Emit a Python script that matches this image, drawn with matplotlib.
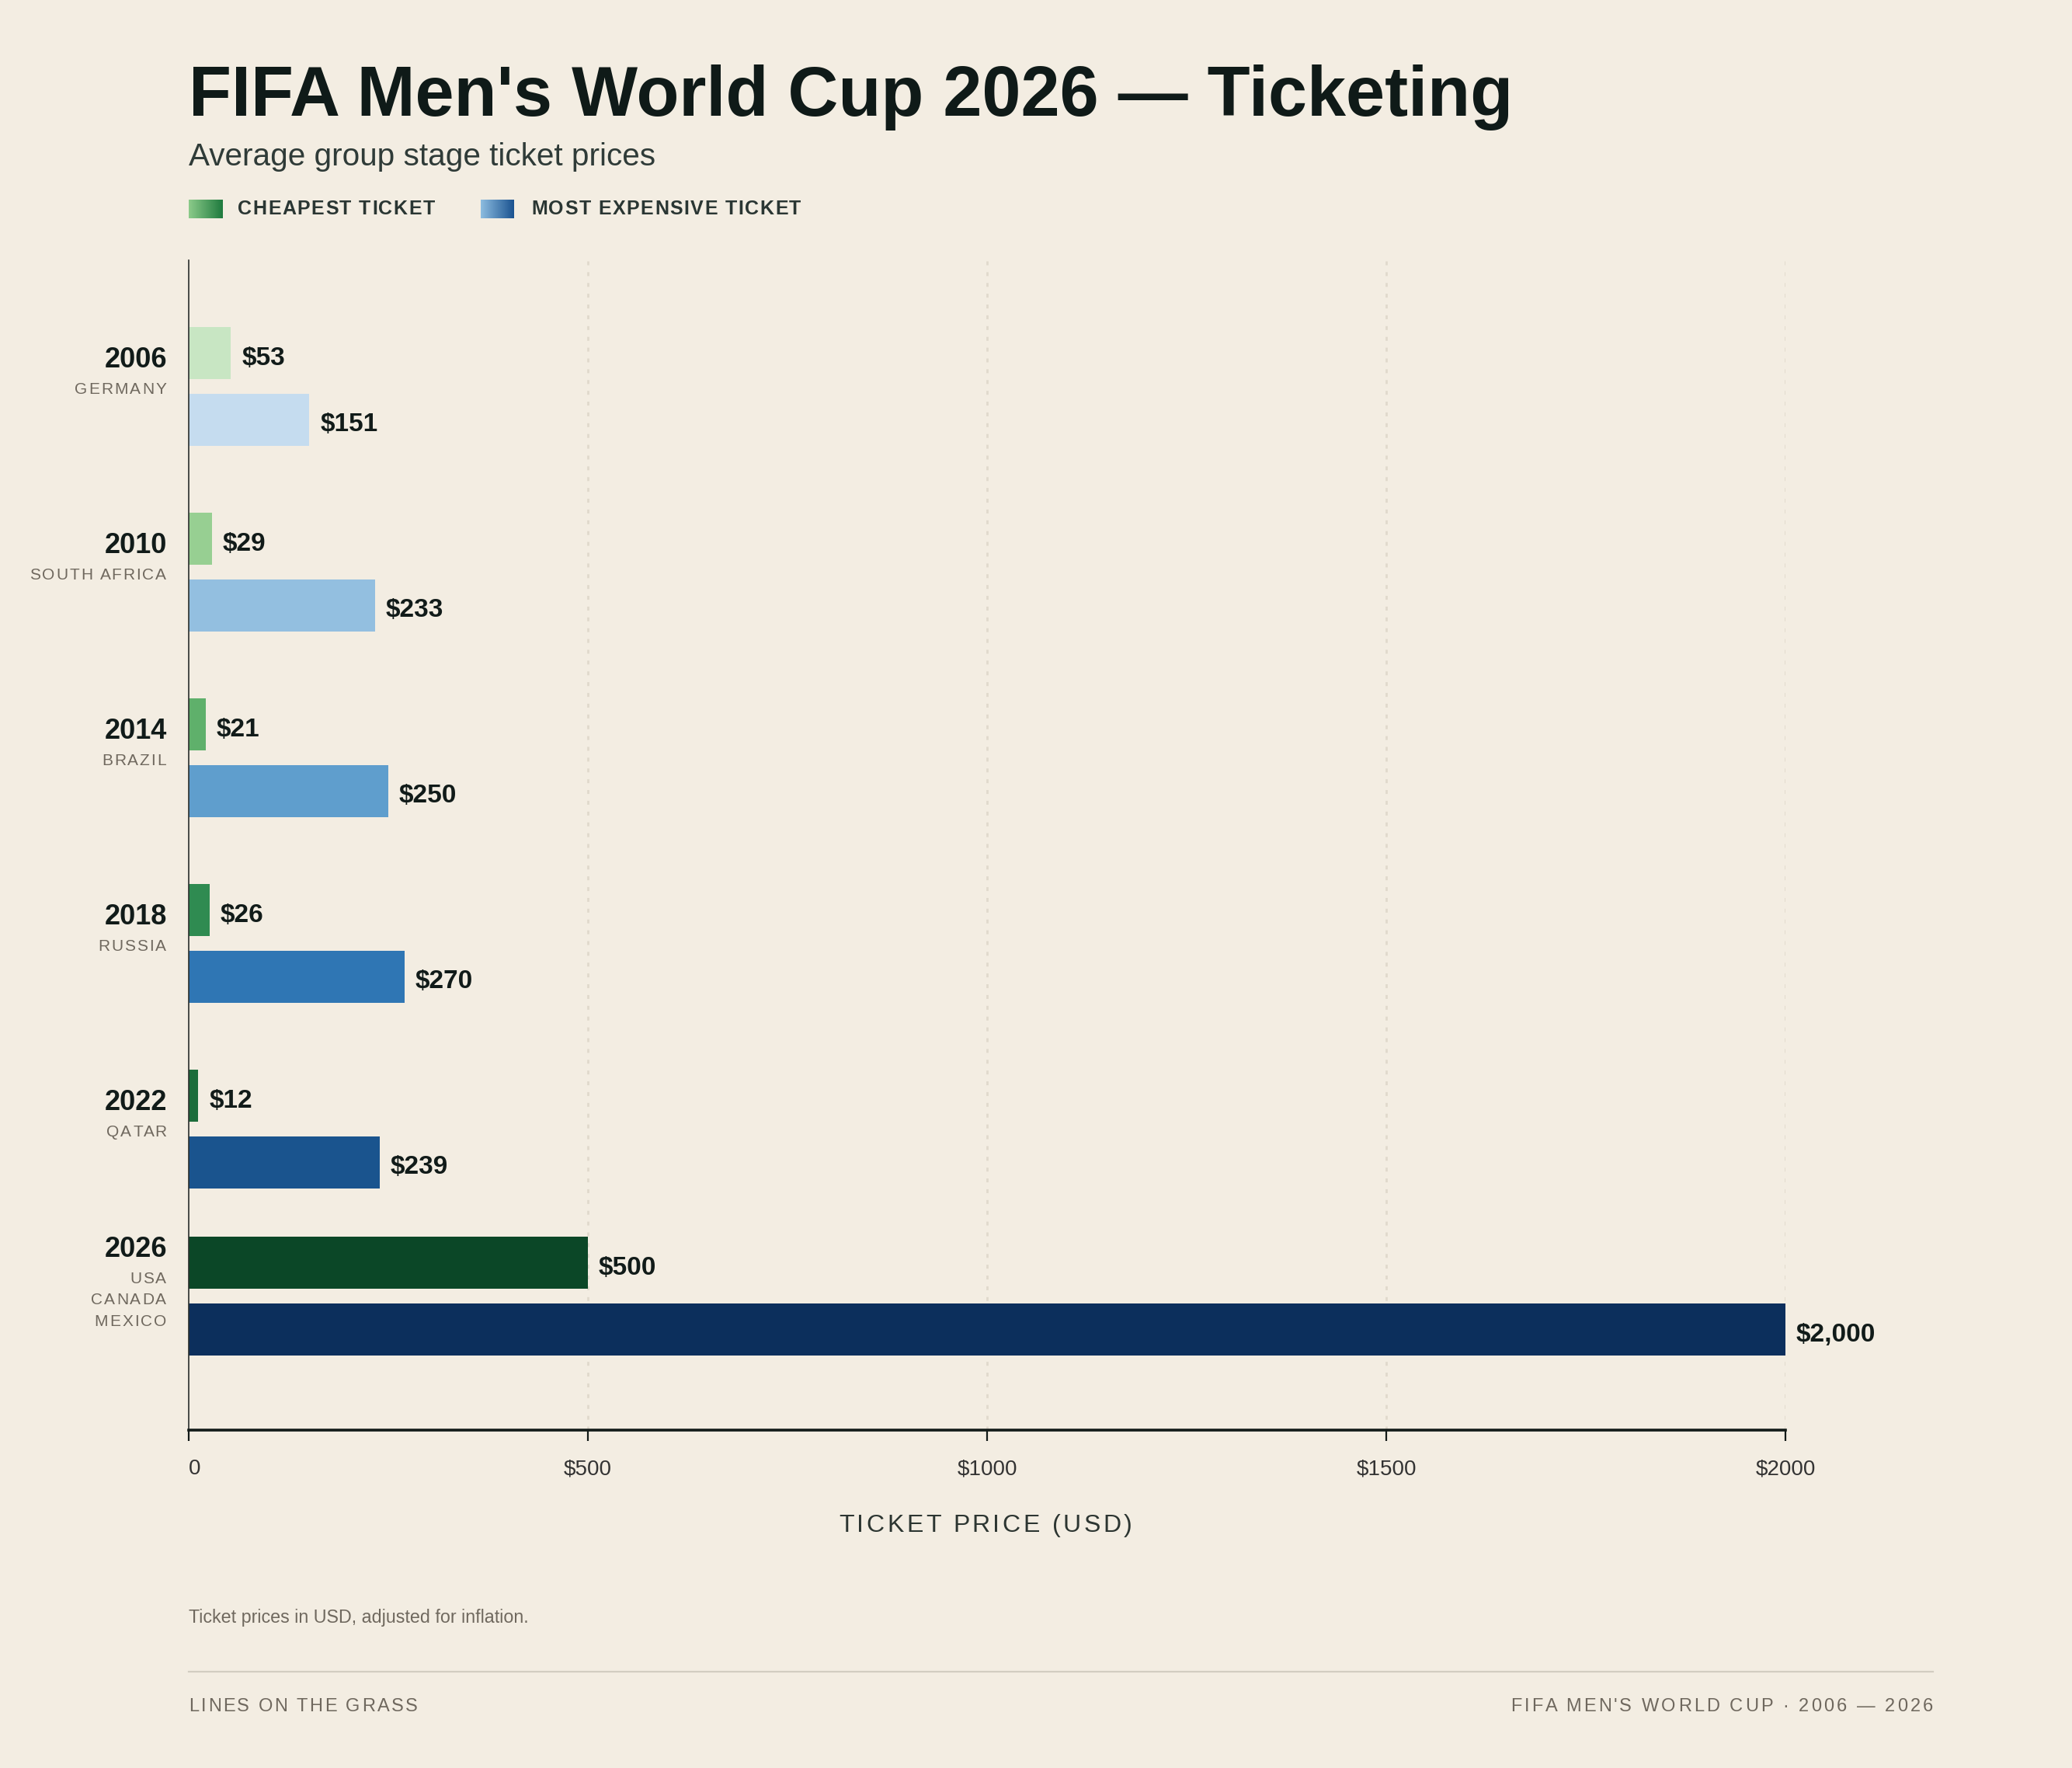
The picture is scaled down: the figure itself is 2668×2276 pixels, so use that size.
import numpy as np
import matplotlib
matplotlib.use('Agg')
import matplotlib.pyplot as plt
from matplotlib.colors import LinearSegmentedColormap
from matplotlib.font_manager import FontProperties
from matplotlib.lines import Line2D

# data
years = ['2006', '2010', '2014', '2018', '2022', '2026']
hosts = [['GERMANY'], ['SOUTH AFRICA'], ['BRAZIL'], ['RUSSIA'], ['QATAR'], ['USA', 'CANADA', 'MEXICO']]
cheapest = [53, 29, 21, 26, 12, 500]
most_expensive = [151, 233, 250, 270, 239, 2000]
green_shades = ['#c8e6c3', '#97cf92', '#5fb06b', '#2f8b51', '#1c6d3b', '#0b4727']
blue_shades = ['#c5dcef', '#93bfe0', '#5f9ecd', '#2f76b4', '#1a548e', '#0c2f5c']
x_ticks = [0, 500, 1000, 1500, 2000]
x_tick_labels = ['0', '$500', '$1000', '$1500', '$2000']

BG = '#f3ede2'
FONT = 'Liberation Sans'
plt.rcParams['font.family'] = [FONT, 'DejaVu Sans']

W, H, DPI = 2668, 2276, 200
fig = plt.figure(figsize=(W / DPI, H / DPI), dpi=DPI, facecolor=BG)
renderer = fig.canvas.get_renderer()

def fx(x): return x / W
def fy(y): return 1 - y / H

def spaced_text(x, y, s, size, spacing, ha='left', weight='normal', color='#333333'):
    # letter-spaced text, x/y in top-origin pixels, y = baseline
    fp = FontProperties(family=FONT, size=size, weight=weight)
    w = lambda t: renderer.get_text_width_height_descent(t, fp, ismath=False)[0]
    ref = w('x')
    offs = [w(s[:i] + 'x') - ref if i else 0 for i in range(len(s))]
    total = w(s) + spacing * (len(s) - 1)
    start = {'left': x, 'center': x - total / 2, 'right': x - total}[ha]
    for i, c in enumerate(s):
        if c == ' ':
            continue
        fig.text(fx(start + offs[i] + i * spacing), fy(y), c, fontproperties=fp,
                 color=color, ha='left', va='baseline')

# main axes
ax = fig.add_axes([fx(243), fy(1841), (2299 - 243) / W, (1841 - 335) / H])
ax.set_facecolor(BG)

pos = np.arange(len(years), dtype=float)
pos[-1] -= 0.1
bh, off = 0.28, 0.358
ax.barh(pos, cheapest, height=bh, color=green_shades, zorder=2)
ax.barh(pos + off, most_expensive, height=bh, color=blue_shades, zorder=2)

for vals, ys in [(cheapest, pos), (most_expensive, pos + off)]:
    for v, yv in zip(vals, ys):
        ax.annotate(f'${v:,}', (v, yv), xytext=(5, -2.4), textcoords='offset points',
                    ha='left', va='center', fontsize=12, fontweight='bold', color='#111b19')

ax.set_xlim(0, 2000)
ax.set_ylim(5.8, -0.5)
for t in x_ticks[1:]:
    ax.axvline(t, color='#e0d9cc', lw=1, ls=(0, (1.8, 3.2)), zorder=0)

for s in ['top', 'right']:
    ax.spines[s].set_visible(False)
ax.spines['bottom'].set_linewidth(1.3)
ax.spines['bottom'].set_color('#121a18')
ax.spines['left'].set_linewidth(0.6)
ax.spines['left'].set_color('#2a2f2d')
ax.set_xticks(x_ticks)
ax.set_xticklabels(x_tick_labels)
ax.get_xticklabels()[0].set_ha('left')
ax.tick_params(axis='x', length=5, width=0.8, color='#121a18', pad=8.5, labelsize=10, labelcolor='#333333')
ax.tick_params(axis='y', left=False, labelleft=False)
ax.set_yticks([])

# year / host labels
def data_to_px(yd):
    return H - ax.transData.transform((0, yd))[1]

for yr, names, p in zip(years, hosts, pos):
    gc = data_to_px(p + off / 2)
    yc = gc - 37.5 - (len(names) - 1) * 13.25
    fig.text(fx(215), fy(yc + 13), yr, fontsize=13, fontweight='bold', color='#111b19',
             ha='right', va='baseline')
    for k, nm in enumerate(names):
        spaced_text(214, yc + 39.5 + k * 27.5 + 7.5, nm, 7.5, 2, ha='right', color='#6f685e')

# titles
fig.text(fx(243), fy(149), "FIFA Men's World Cup 2026 \u2014 Ticketing", fontsize=32.4,
         fontweight='bold', color='#0f1a18', va='baseline')
fig.text(fx(243), fy(213), 'Average group stage ticket prices', fontsize=14.6,
         color='#2f3b38', va='baseline')

# legend
for x0, cols in [(243, ['#8ccb8a', '#1e7a3e']), (619, ['#8dbde0', '#1a5290'])]:
    sw = fig.add_axes([fx(x0), fy(281), 43 / W, 24 / H])
    sw.imshow(np.linspace(0, 1, 256)[None, :], aspect='auto',
              cmap=LinearSegmentedColormap.from_list('g', cols))
    sw.axis('off')
spaced_text(306, 276, 'CHEAPEST TICKET', 9, 1.5, weight='bold', color='#2a3633')
spaced_text(684, 276, 'MOST EXPENSIVE TICKET', 9, 1.5, weight='bold', color='#2a3633')

# axis label, notes, footer
spaced_text(1269, 1972, 'TICKET PRICE (USD)', 11.5, 3.5, ha='center', color='#2c3531')
fig.text(fx(243), fy(2089), 'Ticket prices in USD, adjusted for inflation.', fontsize=8.4,
         color='#6f685e', va='baseline')
fig.add_artist(Line2D([fx(243), fx(2489)], [fy(2152), fy(2152)], color='#d2cdc1', lw=0.8,
                      transform=fig.transFigure))
spaced_text(243, 2203, 'LINES ON THE GRASS', 8.5, 2.5, color='#6f685e')
spaced_text(2489, 2203, "FIFA MEN'S WORLD CUP \u00b7 2006 \u2014 2026", 8.5, 3.1, ha='right', color='#6f685e')

fig.savefig('out.png', dpi=DPI, facecolor=BG)
